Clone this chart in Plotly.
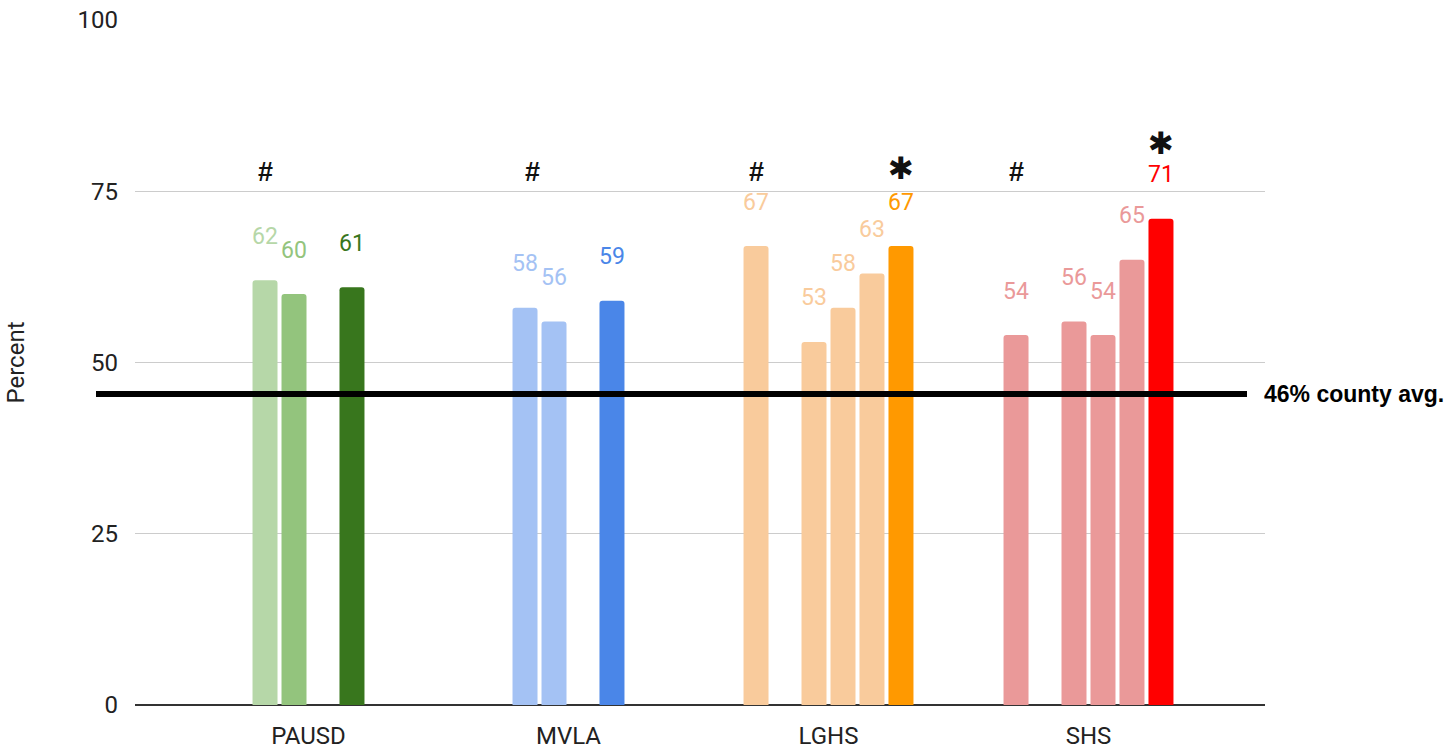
import plotly.graph_objects as go

# ---- data ----
schools = ["PAUSD", "MVLA", "LGHS", "SHS"]

# six bar slots per school (None = no bar in that slot)
slot0 = [None, None, 67, 54]
slot1 = [62, 58, None, None]
slot2 = [60, 56, 53, 56]
slot3 = [None, None, 58, 54]
slot4 = [61, 59, 63, 65]
slot5 = [None, None, 67, 71]

color0 = ["#f9cb9c", "#f9cb9c", "#f9cb9c", "#ea9999"]
color1 = ["#b6d7a8", "#a4c2f4", "#f9cb9c", "#ea9999"]
color2 = ["#93c47d", "#a4c2f4", "#f9cb9c", "#ea9999"]
color3 = ["#f9cb9c", "#f9cb9c", "#f9cb9c", "#ea9999"]
color4 = ["#38761d", "#4a86e8", "#f9cb9c", "#ea9999"]
color5 = ["#ff9900", "#ff9900", "#ff9900", "#ff0000"]

county_avg = 45.4
county_label = "46% county avg."

# significance markers: (school index, slot, symbol, level)
marks_school = [0, 1, 2, 2, 3, 3]
marks_slot = [1, 1.25, 0, 5, 0, 5]
marks_text = ["#", "#", "#", "\u2731", "#", "\u2731"]
marks_y = [77.8, 77.8, 77.8, 78.4, 77.8, 82.0]

slots = [slot0, slot1, slot2, slot3, slot4, slot5]
colors = [color0, color1, color2, color3, color4, color5]

CAT_PX = 260.0
SLOT_PX = 29.0

fig = go.Figure()
annotations = []
for i, (vals, cols) in enumerate(zip(slots, colors)):
    fig.add_trace(go.Bar(
        x=schools, y=vals, marker=dict(color=cols, line=dict(width=0)),
        showlegend=False, hoverinfo="x+y",
    ))
    for j, v in enumerate(vals):
        if v is None:
            continue
        annotations.append(dict(
            x=schools[j], y=v, xref="x", yref="y",
            text=str(v), showarrow=False,
            xshift=(i - 2.5) * SLOT_PX, yshift=44, yanchor="middle",
            font=dict(family="Roboto", size=23, color=cols[j]),
        ))

for s, sl, t, y in zip(marks_school, marks_slot, marks_text, marks_y):
    is_star = t != "#"
    annotations.append(dict(
        x=s + (sl - 2.5) * SLOT_PX / CAT_PX, y=y, xref="x", yref="y",
        text="<b>" + t + "</b>", showarrow=False,
        xanchor="center", yanchor="middle",
        font=dict(family="DejaVu Sans" if is_star else "Liberation Sans",
                  size=31 if is_star else 27, color="#111111"),
    ))

# county average label
annotations.append(dict(
    x=(1262 - 135) / 1130.0, y=county_avg, xref="paper", yref="y",
    text="<b>" + county_label + "</b>", showarrow=False,
    xanchor="left", yanchor="middle",
    font=dict(family="Liberation Sans", size=23, color="#000000"),
))

# y axis title
annotations.append(dict(
    x=(15 - 135) / 1130.0, y=0.5, xref="paper", yref="paper",
    text="Percent", showarrow=False, textangle=-90,
    xanchor="center", yanchor="middle",
    font=dict(family="Roboto", size=24, color="#222222"),
))

fig.add_shape(
    type="line", xref="paper", yref="y",
    x0=(96 - 135) / 1130.0, x1=(1247 - 135) / 1130.0,
    y0=county_avg, y1=county_avg,
    line=dict(color="#000000", width=6),
)

left_edge = -(308.5 - 135) / CAT_PX
right_edge = 3 + (1265 - 1088.5) / CAT_PX

fig.update_layout(
    width=1452, height=749,
    margin=dict(l=135, r=187, t=20, b=44, autoexpand=False),
    paper_bgcolor="white", plot_bgcolor="white",
    barmode="group", bargap=0.331, bargroupgap=0.138,
    barcornerradius=3,
    annotations=annotations,
    xaxis=dict(
        type="category", range=[left_edge, right_edge], automargin=False,
        showgrid=False, zeroline=False, showline=False,
        ticks="", ticklabelstandoff=14,
        tickfont=dict(family="Roboto", size=24, color="#222222"),
    ),
    yaxis=dict(
        range=[0, 100], tickvals=[0, 25, 50, 75, 100], automargin=False,
        showgrid=True, gridcolor="#cccccc", gridwidth=1,
        zeroline=True, zerolinecolor="#333333", zerolinewidth=1.5,
        showline=False, ticks="", ticklabelstandoff=16,
        tickfont=dict(family="Roboto", size=24, color="#222222"),
    ),
)

fig.write_html("out.html", config={"displayModeBar": False},
               post_script="document.body.style.margin='0';")
